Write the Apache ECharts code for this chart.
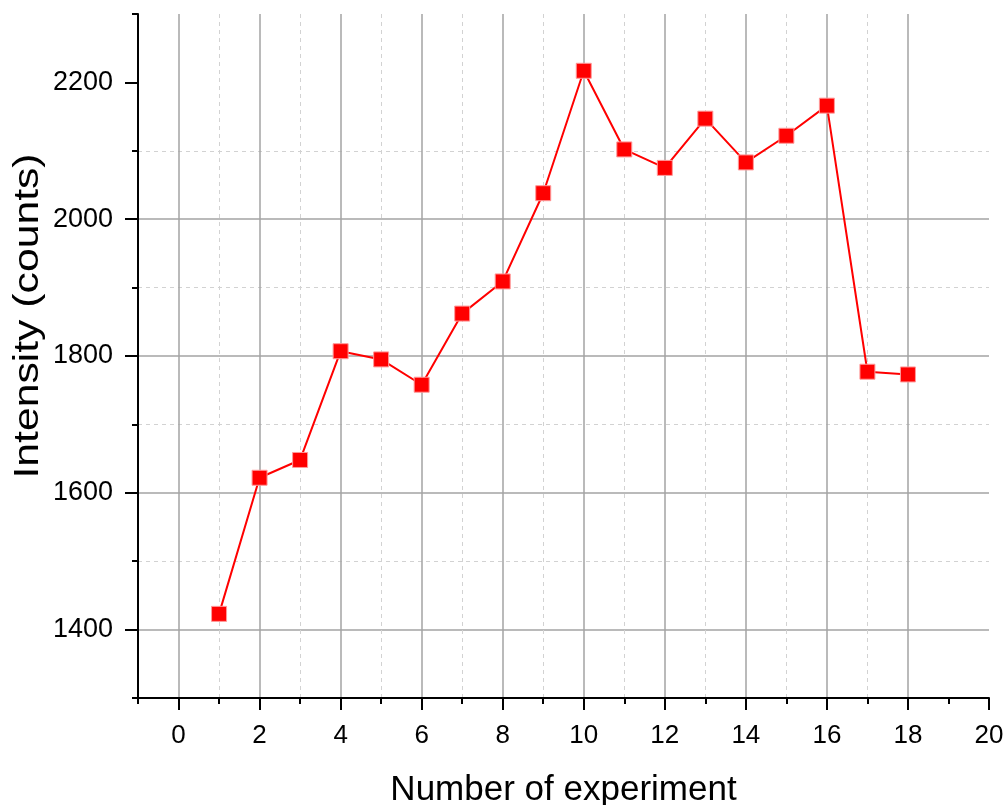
<!DOCTYPE html>
<html>
<head>
<meta charset="utf-8">
<script src="https://cdn.jsdelivr.net/npm/echarts@6/dist/echarts.min.js"></script>
<style>
html,body{margin:0;padding:0;background:#fff;}
#chart{width:1006px;height:805px;}
</style>
</head>
<body>
<div id="chart"></div>
<script>
// Data
var experiments = [1,2,3,4,5,6,7,8,9,10,11,12,13,14,15,16,17,18];
var intensity = [1423,1622,1648,1807,1795,1758,1862,1909,2038,2217,2102,2075,2147,2083,2122,2166,1777,1773];
var xMajorTicks = [0,2,4,6,8,10,12,14,16,18,20];
var xMinorTicks = [-1,1,3,5,7,9,11,13,15,17,19];
var yMajorTicks = [1400,1600,1800,2000,2200];
var yMinorTicks = [1300,1500,1700,1900,2100,2300];
var xTitle = 'Number of experiment';
var yTitle = 'Intensity (counts)';

var font = 'Liberation Sans, Arial, sans-serif';
var chart = echarts.init(document.getElementById('chart'));
var pts = experiments.map(function (x, i) { return [x, intensity[i]]; });
var majorGrid = {show: true, showMaxLine: false, lineStyle: {color: '#a3a3a3', width: 1.5, type: 'solid'}};
var minorGrid = {show: true, showMinLine: false, showMaxLine: false, lineStyle: {color: '#d2d2d2', width: 1, type: [4, 4]}};
var plain = function (v) { return String(v); };

chart.setOption({
  animation: false,
  backgroundColor: '#fff',
  grid: {left: 138, right: 17, top: 14, bottom: 107, containLabel: false, outerBoundsMode: 'none'},
  xAxis: [
    {
      type: 'value', min: -1, max: 20, interval: 1, position: 'bottom',
      axisLine: {show: true, onZero: false, lineStyle: {color: '#000', width: 2}},
      axisTick: {show: true, customValues: xMajorTicks, length: 12, lineStyle: {color: '#000', width: 2}},
      axisLabel: {show: true, customValues: xMajorTicks, formatter: plain, fontSize: 26, fontFamily: font, color: '#000', margin: 25},
      splitLine: majorGrid,
      name: xTitle, nameLocation: 'middle', nameGap: 75,
      nameTextStyle: {fontSize: 35, fontFamily: font, color: '#000'}
    },
    {
      type: 'value', min: -1, max: 20, interval: 1, position: 'bottom',
      axisLine: {show: false, onZero: false},
      axisTick: {show: true, customValues: xMinorTicks, length: 6, lineStyle: {color: '#000', width: 2}},
      axisLabel: {show: false},
      splitLine: minorGrid
    }
  ],
  yAxis: [
    {
      type: 'value', min: 1300, max: 2300, interval: 100, position: 'left',
      axisLine: {show: true, onZero: false, lineStyle: {color: '#000', width: 2}},
      axisTick: {show: true, customValues: yMajorTicks, length: 13, lineStyle: {color: '#000', width: 2}},
      axisLabel: {show: true, customValues: yMajorTicks, formatter: plain, fontSize: 27, fontFamily: font, color: '#000', margin: 25},
      splitLine: majorGrid
    },
    {
      type: 'value', min: 1300, max: 2300, interval: 100, position: 'left',
      axisLine: {show: false, onZero: false},
      axisTick: {show: true, customValues: yMinorTicks, length: 6, lineStyle: {color: '#000', width: 2}},
      axisLabel: {show: false},
      splitLine: minorGrid
    }
  ],
  graphic: [{
    type: 'text', x: 28, y: 316, rotation: Math.PI / 2, scaleX: 1.22,
    style: {text: yTitle, fontSize: 35, fontFamily: font, fill: '#000', align: 'center', verticalAlign: 'middle'}
  }],
  series: [{
    type: 'line', xAxisIndex: 0, yAxisIndex: 0, data: pts,
    symbol: 'rect', symbolSize: 15,
    lineStyle: {color: '#ff0000', width: 2},
    itemStyle: {color: '#ff0000', borderColor: '#ff9a9a', borderWidth: 1},
    z: 10
  }]
});
</script>
</body>
</html>
